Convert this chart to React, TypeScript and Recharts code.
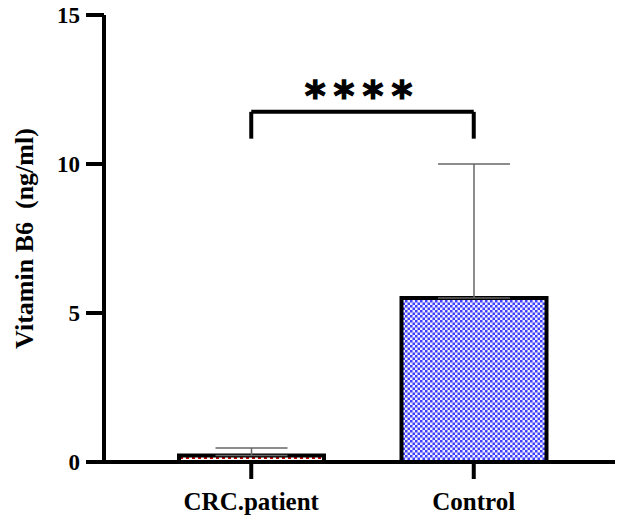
import { BarChart, Bar, XAxis, YAxis, ErrorBar, ReferenceLine, Cell } from 'recharts';

const groups = ['CRC.patient', 'Control'];
const means = [0.22, 5.5];
const sds = [0.25, 4.5];
const yTicks = [0, 5, 10, 15];
const barFills = ['url(#redDash)', 'url(#blueCheck)'];
const bracketY = 11.75;
const bracketLegY = 10.85;
const stars = '****';

const data = groups.map((g, i) => ({ group: g, mean: means[i], err: [0, sds[i]] }));

const serif = 'Liberation Serif, Times New Roman, serif';

export default function App() {
  return (
    <div style={{ position: 'absolute', left: 0, top: 0, background: '#fff' }}>
      <BarChart
        width={622}
        height={518}
        data={data}
        margin={{ top: 15, right: 7, left: 0, bottom: 16 }}
      >
        <defs>
          <pattern id="blueCheck" width="5" height="5" patternUnits="userSpaceOnUse">
            <rect width="5" height="5" fill="#eeeeff" />
            <rect x="0" y="0" width="2.5" height="2.5" fill="#3f3fff" />
            <rect x="2.5" y="2.5" width="2.5" height="2.5" fill="#3f3fff" />
          </pattern>
          <pattern id="redDash" width="6" height="4" patternUnits="userSpaceOnUse">
            <rect width="6" height="4" fill="#ffffff" />
            <rect x="0" y="1" width="3" height="2" fill="#c00000" />
          </pattern>
        </defs>
        <XAxis
          dataKey="group"
          height={40}
          padding={{ left: 36, right: 30 }}
          axisLine={{ stroke: '#000', strokeWidth: 4 }}
          tickLine={{ stroke: '#000', strokeWidth: 4 }}
          tickSize={17}
          tickMargin={13}
          tick={{ fill: '#000', fontSize: 25, fontWeight: 'bold', fontFamily: serif }}
        />
        <YAxis
          width={104}
          domain={[0, 15]}
          ticks={yTicks}
          axisLine={{ stroke: '#000', strokeWidth: 4 }}
          tickLine={{ stroke: '#000', strokeWidth: 4 }}
          tickSize={18}
          tickMargin={6}
          tick={{ fill: '#000', fontSize: 23, fontWeight: 'bold', fontFamily: serif }}
          label={{
            value: 'Vitamin B6\u00A0 (ng/ml)',
            angle: -90,
            position: 'insideLeft',
            offset: 24,
            style: { textAnchor: 'middle', fill: '#000', fontSize: 26, fontWeight: 'bold', fontFamily: serif },
          }}
        />
        <Bar dataKey="mean" barSize={145} stroke="#000" strokeWidth={4} isAnimationActive={false}>
          {data.map((d, i) => (
            <Cell key={d.group} fill={barFills[i]} />
          ))}
          <ErrorBar dataKey="err" direction="y" width={36} stroke="#666" strokeWidth={1.5} />
        </Bar>
        <ReferenceLine
          segment={[{ x: groups[0], y: bracketY }, { x: groups[1], y: bracketY }]}
          stroke="#000"
          strokeWidth={4}
          label={{
            value: stars,
            position: 'top',
            offset: 2,
            style: {
              fill: '#000',
              stroke: '#000',
              strokeWidth: 1.2,
              fontSize: 40,
              fontWeight: 'bold',
              fontFamily: 'DejaVu Sans',
              letterSpacing: 8,
            },
          }}
        />
        <ReferenceLine
          segment={[{ x: groups[0], y: bracketLegY }, { x: groups[0], y: bracketY }]}
          stroke="#000"
          strokeWidth={4}
        />
        <ReferenceLine
          segment={[{ x: groups[1], y: bracketLegY }, { x: groups[1], y: bracketY }]}
          stroke="#000"
          strokeWidth={4}
        />
      </BarChart>
    </div>
  );
}
